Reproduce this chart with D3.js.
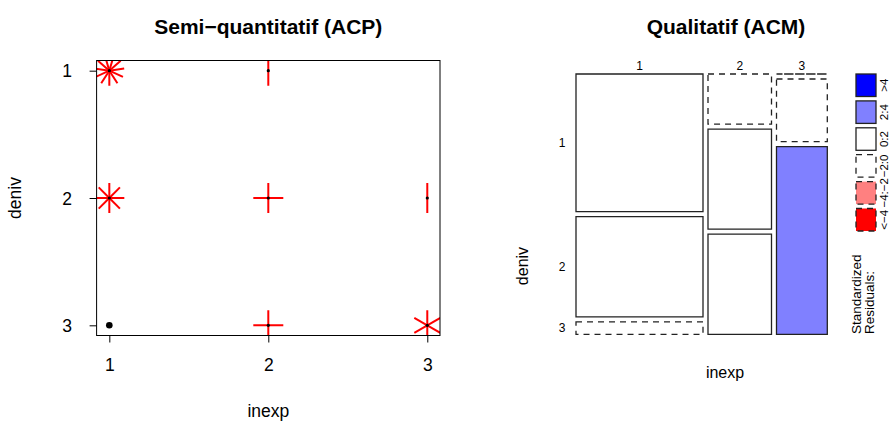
<!DOCTYPE html>
<html>
<head>
<meta charset="utf-8">
<script src="https://cdn.jsdelivr.net/npm/d3@7"></script>
<style>
  body { margin: 0; background: #ffffff; }
  svg text { font-family: "Liberation Sans", Arial, Helvetica, sans-serif; fill: #000; }
</style>
</head>
<body>
<svg id="chart" width="890" height="424"></svg>
<script>
// Levels of the two ordinal variables
const inexpLevels = ["1", "2", "3"];
const denivLevels = ["1", "2", "3"];

// Cross-table counts, one array per inexp level (entries follow deniv 1, 2, 3)
const countsInexp1 = [11, 8, 1];
const countsInexp2 = [2, 4, 4];
const countsInexp3 = [0, 2, 6];

// Axis tick labels of the sunflower plot
const tickValues = [1, 2, 3];
const tickLabels = ["1", "2", "3"];

// Residual shading classes, top to bottom in the legend
const residualLabels = [">4", "2:4", "0:2", "\u22122:0", "\u22124:\u22122", "<\u22124"];
const residualFills = ["#0000ff", "#8080ff", "#ffffff", "#ffffff", "#ff8080", "#ff0000"];
const residualDashed = [false, false, false, true, true, true];

const titles = ["Semi\u2212quantitatif (ACP)", "Qualitatif (ACM)"];

const svg = d3.select("#chart");
const countsByInexp = [countsInexp1, countsInexp2, countsInexp3];

/* ---------------- Sunflower plot ---------------- */
const xS = d3.scaleLinear().domain([0.92, 3.08]).range([96.6, 440]);
const yS = d3.scaleLinear().domain([0.92, 3.08]).range([60.5, 335.5]); // deniv 1 on top

const points = [];
countsByInexp.forEach((col, i) => col.forEach((n, j) => {
  if (n > 0) points.push({ x: +inexpLevels[i], y: +denivLevels[j], n });
}));

svg.append("defs").append("clipPath").attr("id", "plotClip")
  .append("rect")
  .attr("x", xS.range()[0]).attr("y", yS.range()[0])
  .attr("width", xS.range()[1] - xS.range()[0])
  .attr("height", yS.range()[1] - yS.range()[0]);

const petalLen = 15;
const petals = [];
points.filter(p => p.n > 1).forEach(p => {
  for (let k = 1; k <= p.n; k++) {
    const a = 2 * Math.PI * k / p.n;
    petals.push({ p, dx: petalLen * Math.sin(a), dy: petalLen * Math.cos(a) });
  }
});

const plotG = svg.append("g").attr("clip-path", "url(#plotClip)");
plotG.selectAll("line.petal").data(petals).join("line")
  .attr("class", "petal")
  .attr("x1", d => xS(d.p.x)).attr("y1", d => yS(d.p.y))
  .attr("x2", d => xS(d.p.x) + d.dx).attr("y2", d => yS(d.p.y) + d.dy)
  .attr("stroke", "#ff0000").attr("stroke-width", 2);

plotG.selectAll("circle.pt").data(points).join("circle")
  .attr("class", "pt")
  .attr("cx", d => xS(d.x)).attr("cy", d => yS(d.y))
  .attr("r", d => d.n === 1 ? 3.3 : 1.6)
  .attr("fill", "#000");

svg.append("rect")
  .attr("x", xS.range()[0]).attr("y", yS.range()[0])
  .attr("width", xS.range()[1] - xS.range()[0])
  .attr("height", yS.range()[1] - yS.range()[0])
  .attr("fill", "none").attr("stroke", "#000").attr("stroke-width", 1);

const axisFont = 17.5;
const gx = svg.append("g").attr("transform", `translate(0,${yS.range()[1]})`)
  .call(d3.axisBottom(xS).tickValues(tickValues).tickFormat((d, i) => tickLabels[i]).tickSize(7));
gx.select(".domain").remove();
gx.selectAll("text").attr("y", 35.5).attr("dy", null)
  .style("font-size", axisFont + "px").style("font-family", null);

const gy = svg.append("g").attr("transform", `translate(${xS.range()[0]},0)`)
  .call(d3.axisLeft(yS).tickValues(tickValues).tickFormat((d, i) => tickLabels[i]).tickSize(7));
gy.select(".domain").remove();
gy.selectAll("text").attr("x", -29.6).attr("dy", "0.36em").attr("text-anchor", "middle")
  .style("font-size", axisFont + "px").style("font-family", null);

svg.append("text").attr("x", 268.3).attr("y", 417).attr("text-anchor", "middle")
  .style("font-size", axisFont + "px").text("inexp");
svg.append("text").attr("transform", "translate(21,198) rotate(-90)").attr("text-anchor", "middle")
  .style("font-size", axisFont + "px").text("deniv");
svg.append("text").attr("x", 268.3).attr("y", 34).attr("text-anchor", "middle")
  .style("font-size", "21px").style("font-weight", "bold").text(titles[0]);

/* ---------------- Mosaic plot ---------------- */
const mx0 = 576, mx1 = 827.3, my0 = 74, my1 = 334.3, gap = 5;
const colTotals = countsByInexp.map(c => d3.sum(c));
const rowTotals = denivLevels.map((_, j) => d3.sum(countsByInexp, c => c[j]));
const total = d3.sum(colTotals);

// column widths ∝ column totals, rows within a column ∝ cell counts
const wScale = d3.scaleLinear().domain([0, total]).range([0, (mx1 - mx0) - gap * (inexpLevels.length - 1)]);
const mosaicCells = [];
let cx = mx0;
countsByInexp.forEach((col, i) => {
  const w = wScale(colTotals[i]);
  const hScale = d3.scaleLinear().domain([0, colTotals[i]]).range([0, (my1 - my0) - gap * (denivLevels.length - 1)]);
  let cy = my0;
  col.forEach((n, j) => {
    const h = hScale(n);
    const expct = rowTotals[j] * colTotals[i] / total;
    const res = (n - expct) / Math.sqrt(expct);
    let cls;
    if (res > 4) cls = 0; else if (res > 2) cls = 1; else if (res >= 0) cls = 2;
    else if (res >= -2) cls = 3; else if (res >= -4) cls = 4; else cls = 5;
    mosaicCells.push({ i, j, x: cx, y: cy, w, h, cls });
    cy += h + gap;
  });
  cx += w + gap;
});

svg.selectAll("path.cell").data(mosaicCells).join("path")
  .attr("class", "cell")
  .attr("d", d => `M${d.x},${d.y}h${d.w}v${d.h}h${-d.w}Z`)
  .attr("fill", d => residualFills[d.cls])
  .attr("stroke", "#222").attr("stroke-width", 1.3)
  .attr("stroke-dasharray", d => residualDashed[d.cls] ? "6,5" : null);

// column labels (inexp) above, row labels (deniv) at the first column
const smallFont = 12;
svg.selectAll("text.colLab").data(mosaicCells.filter(d => d.j === 0)).join("text")
  .attr("class", "colLab")
  .attr("x", d => d.x + d.w / 2).attr("y", 70).attr("text-anchor", "middle")
  .style("font-size", smallFont + "px").text(d => inexpLevels[d.i]);
svg.selectAll("text.rowLab").data(mosaicCells.filter(d => d.i === 0)).join("text")
  .attr("class", "rowLab")
  .attr("x", 562).attr("y", d => d.y + d.h / 2).attr("dy", "0.36em").attr("text-anchor", "middle")
  .style("font-size", smallFont + "px").text(d => denivLevels[d.j]);

svg.append("text").attr("x", 725).attr("y", 378).attr("text-anchor", "middle")
  .style("font-size", "16px").text("inexp");
svg.append("text").attr("transform", "translate(528,266) rotate(-90)").attr("text-anchor", "middle")
  .style("font-size", "16px").text("deniv");
svg.append("text").attr("x", 726).attr("y", 34).attr("text-anchor", "middle")
  .style("font-size", "21px").style("font-weight", "bold").text(titles[1]);

/* ---------------- Residual legend ---------------- */
const legY = d3.scalePoint().domain(d3.range(residualLabels.length)).range([74, 208.5]);
const legBoxH = 22.5, legX = 856, legW = 20;
const leg = svg.append("g");
leg.selectAll("rect").data(residualLabels).join("rect")
  .attr("x", legX).attr("y", (d, k) => legY(k))
  .attr("width", legW).attr("height", legBoxH)
  .attr("fill", (d, k) => residualFills[k])
  .attr("stroke", "#222").attr("stroke-width", 1.3)
  .attr("stroke-dasharray", (d, k) => residualDashed[k] ? "6,5" : null);
leg.selectAll("text").data(residualLabels).join("text")
  .attr("transform", (d, k) => `translate(887.5,${legY(k) + legBoxH / 2}) rotate(-90)`)
  .attr("text-anchor", "middle")
  .style("font-size", "11.5px").text(d => d);
svg.append("text").attr("transform", "translate(861,334) rotate(-90)")
  .style("font-size", "13.5px").text("Standardized");
svg.append("text").attr("transform", "translate(874,334) rotate(-90)")
  .style("font-size", "13.5px").text("Residuals:");
</script>
</body>
</html>
